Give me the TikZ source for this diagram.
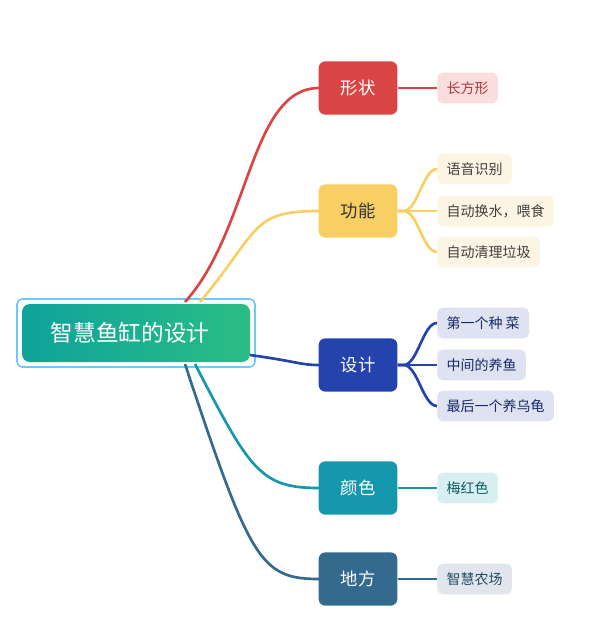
\documentclass[tikz,border=0pt]{standalone}
\usepackage{fontspec}
\setmainfont{Noto Sans CJK SC}
\usetikzlibrary{positioning}
\definecolor{cRed}{HTML}{D94544}
\definecolor{cYel}{HTML}{F8CF63}
\definecolor{cBlu}{HTML}{2443AD}
\definecolor{cTea}{HTML}{1597AD}
\definecolor{cDrk}{HTML}{336A8E}
\tikzset{%
    branch/.style={rounded corners=5pt, minimum width=59pt, minimum height=40pt, font=\fontsize{13pt}{15pt}\selectfont, text=white},
    leaf/.style={rounded corners=4pt, anchor=west, minimum height=23pt, inner xsep=7pt, font=\fontsize{10.5pt}{12pt}\selectfont},
    link/.style={line width=2pt}
}
\begin{document}
\begin{tikzpicture}[x=0.75pt,y=-0.75pt]
    \useasboundingbox (0,0) rectangle (603,620);
    % root
    \draw[rounded corners=4pt, draw={rgb,255:red,110;green,200;blue,250}, line width=1.2pt, fill=white] (17,299) rectangle (255,367);
    \shade[rounded corners=6pt, left color={rgb,255:red,15;green,163;blue,154}, right color={rgb,255:red,43;green,189;blue,133}] (22,304) rectangle (250,362);
    \node[text=white, font=\fontsize{17pt}{20pt}\selectfont] (root) at (130,333) {智慧鱼缸的设计};
    % connectors from root
    \draw[link, cRed] (185,302) .. controls (250,230) and (250,88) .. (319,88);
    \draw[link, cYel] (200,302) .. controls (260,230) and (250,211) .. (319,211);
    \draw[link, cBlu] (250,355) .. controls (300,362) and (300,365) .. (319,365);
    \draw[link, cTea] (195,364) .. controls (250,470) and (260,488) .. (319,488);
    \draw[link, cDrk] (185,364) .. controls (250,560) and (260,579) .. (319,579);
    % branches
    \node[branch, fill=cRed] (shape) at (358,88) {形状};
    \node[branch, fill=cYel, text=black!80] (func) at (358,211) {功能};
    \node[branch, fill=cBlu] (design) at (358,365) {设计};
    \node[branch, fill=cTea] (color) at (358,488) {颜色};
    \node[branch, fill=cDrk] (place) at (358,579) {地方};
    % leaves
    \node[leaf, fill={rgb,255:red,250;green,222;blue,222}, text=cRed!80!black] (l1) at (437,88) {长方形};
    \node[leaf, fill={rgb,255:red,253;green,245;blue,227}, text=black!75] (f1) at (437,169) {语音识别};
    \node[leaf, fill={rgb,255:red,253;green,245;blue,227}, text=black!75] (f2) at (437,211) {自动换水，喂食};
    \node[leaf, fill={rgb,255:red,253;green,245;blue,227}, text=black!75] (f3) at (437,252) {自动清理垃圾};
    \node[leaf, fill={rgb,255:red,223;green,227;blue,241}, text=cBlu!60!black] (d1) at (437,323) {第一个种 菜};
    \node[leaf, fill={rgb,255:red,223;green,227;blue,241}, text=cBlu!60!black] (d2) at (437,365) {中间的养鱼};
    \node[leaf, fill={rgb,255:red,223;green,227;blue,241}, text=cBlu!60!black] (d3) at (437,406) {最后一个养乌龟};
    \node[leaf, fill={rgb,255:red,217;green,238;blue,240}, text=cTea!60!black] (c1) at (437,488) {梅红色};
    \node[leaf, fill={rgb,255:red,224;green,230;blue,236}, text=cDrk!70!black] (p1) at (437,579) {智慧农场};
    % connectors to leaves
    \draw[link, cRed] (shape.east) -- (l1.west);
    \foreach \n in {f1,f2,f3}
        \draw[link, cYel] (func.east) -- ++(6,0) .. controls +(14,0) and +(-14,0) .. (\n.west);
    \foreach \n in {d1,d2,d3}
        \draw[link, cBlu] (design.east) -- ++(6,0) .. controls +(14,0) and +(-14,0) .. (\n.west);
    \draw[link, cTea] (color.east) -- (c1.west);
    \draw[link, cDrk] (place.east) -- (p1.west);
\end{tikzpicture}
\end{document}
